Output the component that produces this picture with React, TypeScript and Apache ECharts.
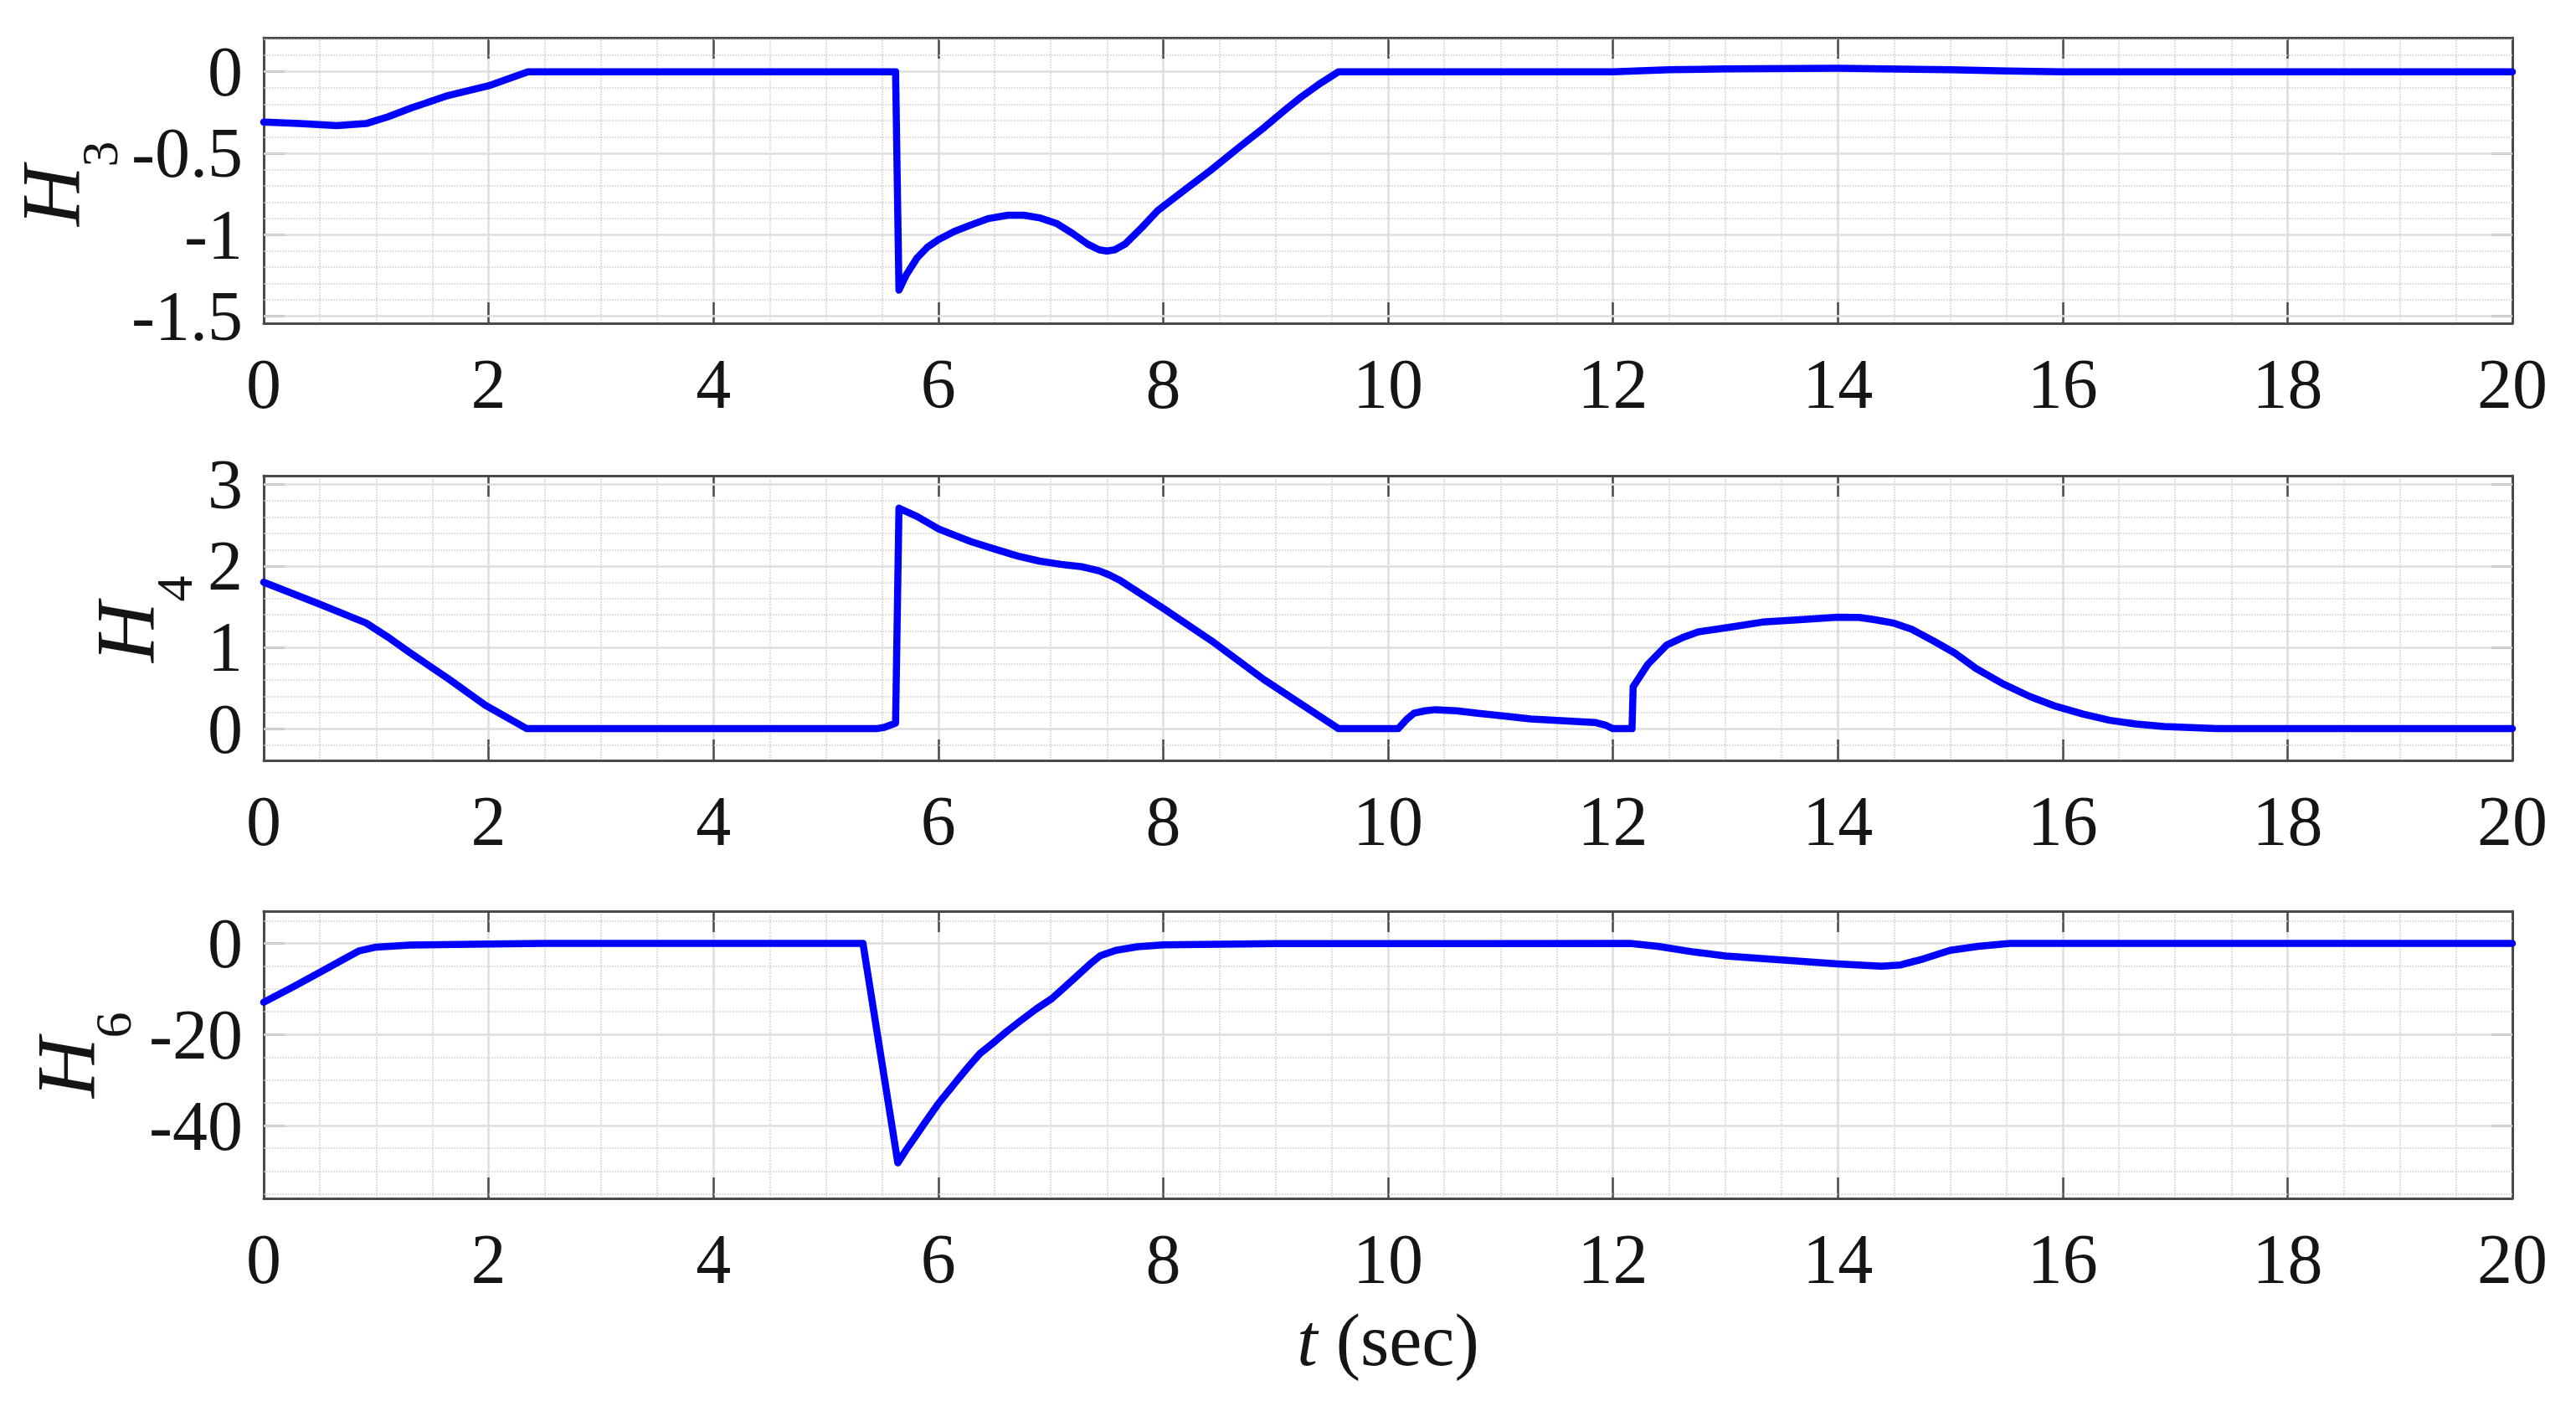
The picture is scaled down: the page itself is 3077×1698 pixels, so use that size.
import React, { useEffect, useRef } from 'react';
import * as echarts from 'echarts';

// ---------- data ----------
const xTickValues = [0, 2, 4, 6, 8, 10, 12, 14, 16, 18, 20];

const h3Time = [0, 0.32, 0.65, 0.91, 1.11, 1.31, 1.64, 2.0, 2.35, 5.62, 5.65, 5.715, 5.81, 5.905, 6.0, 6.14, 6.29, 6.45, 6.62, 6.76, 6.9, 7.05, 7.19, 7.33, 7.43, 7.5, 7.57, 7.66, 7.81, 7.95, 8.2, 8.42, 8.7, 8.9, 9.1, 9.23, 9.4, 9.56, 12.0, 12.5, 13.0, 14.0, 15.0, 15.5, 16.0, 20.0];
const h3Value = [-0.309, -0.318, -0.33, -0.318, -0.275, -0.223, -0.146, -0.086, 0, 0, -1.34, -1.246, -1.143, -1.075, -1.03, -0.98, -0.94, -0.9, -0.88, -0.88, -0.896, -0.93, -0.99, -1.058, -1.092, -1.1, -1.092, -1.058, -0.956, -0.853, -0.72, -0.606, -0.45, -0.341, -0.225, -0.154, -0.07, 0, 0, 0.012, 0.018, 0.022, 0.012, 0.005, 0, 0];

const h4Time = [0, 0.48, 0.91, 1.1, 1.31, 1.64, 1.97, 2.34, 5.45, 5.52, 5.62, 5.65, 5.81, 6.0, 6.14, 6.29, 6.52, 6.71, 6.9, 7.09, 7.28, 7.43, 7.52, 7.62, 7.81, 8.0, 8.43, 8.9, 9.56, 10.09, 10.17, 10.23, 10.33, 10.42, 10.61, 10.8, 11.27, 11.84, 11.94, 12.0, 12.17, 12.18, 12.31, 12.48, 12.62, 12.76, 13.05, 13.33, 13.66, 14.0, 14.19, 14.33, 14.49, 14.66, 14.85, 15.04, 15.23, 15.47, 15.71, 15.94, 16.18, 16.42, 16.65, 16.9, 17.37, 20.0];
const h4Value = [1.8, 1.54, 1.3, 1.13, 0.925, 0.617, 0.29, 0, 0, 0.017, 0.069, 2.71, 2.61, 2.457, 2.38, 2.3, 2.2, 2.12, 2.06, 2.02, 1.99, 1.94, 1.89, 1.82, 1.65, 1.48, 1.08, 0.6, 0, 0, 0.12, 0.19, 0.22, 0.234, 0.22, 0.19, 0.12, 0.076, 0.04, 0, 0, 0.515, 0.79, 1.03, 1.12, 1.19, 1.25, 1.31, 1.34, 1.37, 1.367, 1.34, 1.3, 1.22, 1.08, 0.93, 0.74, 0.55, 0.395, 0.275, 0.18, 0.103, 0.058, 0.027, 0, 0];

const h6Time = [0, 0.25, 0.48, 0.7, 0.85, 1.0, 1.3, 2.0, 2.5, 5.33, 5.64, 5.71, 5.78, 5.88, 6.0, 6.14, 6.26, 6.37, 6.49, 6.61, 6.73, 6.87, 7.01, 7.2, 7.35, 7.44, 7.58, 7.77, 8.0, 9.0, 12.15, 12.4, 12.7, 13.0, 13.5, 14.0, 14.39, 14.56, 14.76, 15.0, 15.25, 15.53, 20.0];
const h6Value = [-12.9, -9.7, -6.6, -3.6, -1.6, -0.8, -0.35, -0.1, 0, 0, -48.2, -45.5, -43, -39.4, -35.2, -30.9, -27.3, -24.2, -21.8, -19.3, -17, -14.4, -12.1, -7.9, -4.5, -2.7, -1.5, -0.73, -0.3, -0.05, 0, -0.64, -1.8, -2.75, -3.6, -4.5, -5.0, -4.7, -3.4, -1.5, -0.64, 0, 0];

const h3Major = [-1.5, -1, -0.5, 0];
const h3Minor = [-1.4, -1.3, -1.2, -1.1, -0.9, -0.8, -0.7, -0.6, -0.4, -0.3, -0.2, -0.1, 0.1, 0.2];
const h4Major = [0, 1, 2, 3];
const h4Minor = [-0.2, 0.2, 0.4, 0.6, 0.8, 1.2, 1.4, 1.6, 1.8, 2.2, 2.4, 2.6, 2.8];
const h6Major = [-40, -20, 0];
const h6Minor = [-55, -50, -45, -35, -30, -25, -15, -10, -5, 5];

const yRanges = [
  [-1.543, 0.209],
  [-0.39, 3.11],
  [-56, 7.1],
];

// ---------- styles ----------
const FONT = '"Liberation Serif", "Times New Roman", serif';
const AXIS_COLOR = '#4a4a4a';
const LABEL_COLOR = '#151515';
const MAJOR_GRID = { color: '#dedede', width: 2.5, type: 'solid' as const };
const MINOR_GRID = { color: '#cdcdcd', width: 1.6, type: 'dotted' as const };

const grids = [
  { left: 315, right: 76, top: 45, height: 341 },
  { left: 315, right: 76, top: 568, height: 340 },
  { left: 315, right: 76, top: 1088, height: 343 },
];

function zip(t: number[], v: number[]) {
  return t.map((x, i) => [x, v[i]]);
}

export default function App() {
  const ref = useRef<HTMLDivElement>(null);

  useEffect(() => {
    if (!ref.current) return;
    const chart = echarts.init(ref.current, undefined, { renderer: 'svg' });

    const series = [zip(h3Time, h3Value), zip(h4Time, h4Value), zip(h6Time, h6Value)];
    const majors = [h3Major, h4Major, h6Major];
    const minors = [h3Minor, h4Minor, h6Minor];

    const xAxis: any[] = [];
    const yAxis: any[] = [];
    const seriesOpt: any[] = [];

    for (let g = 0; g < 3; g++) {
      xAxis.push({
        type: 'value', gridIndex: g, position: 'bottom', min: 0, max: 20, interval: 2,
        axisLine: { show: true, onZero: false, lineStyle: { color: AXIS_COLOR, width: 3 } },
        axisTick: { show: true, inside: true, length: 25, lineStyle: { color: AXIS_COLOR, width: 2.5 } },
        axisLabel: {
          show: true, margin: 30, fontSize: 84, fontFamily: FONT, color: LABEL_COLOR,
          customValues: xTickValues,
        },
        splitLine: { show: true, lineStyle: MAJOR_GRID },
        minorTick: { show: false, splitNumber: 4 },
        minorSplitLine: { show: true, lineStyle: MINOR_GRID },
      });
      xAxis.push({
        type: 'value', gridIndex: g, position: 'top', min: 0, max: 20, interval: 2,
        axisLine: { show: true, onZero: false, lineStyle: { color: AXIS_COLOR, width: 3 } },
        axisTick: { show: true, inside: true, length: 25, lineStyle: { color: AXIS_COLOR, width: 2.5 } },
        axisLabel: { show: false },
        splitLine: { show: false },
      });
      yAxis.push({
        type: 'value', gridIndex: g, position: 'left', min: yRanges[g][0], max: yRanges[g][1],
        axisLine: { show: true, onZero: false, lineStyle: { color: AXIS_COLOR, width: 3 } },
        axisTick: { show: true, inside: true, length: 25, customValues: majors[g], lineStyle: { color: AXIS_COLOR, width: 2.5 } },
        axisLabel: { show: true, margin: 25, fontSize: 84, fontFamily: FONT, color: LABEL_COLOR, customValues: majors[g] },
        splitLine: { show: false },
      });
      yAxis.push({
        type: 'value', gridIndex: g, position: 'right', min: yRanges[g][0], max: yRanges[g][1],
        axisLine: { show: true, onZero: false, lineStyle: { color: AXIS_COLOR, width: 3 } },
        axisTick: { show: true, inside: true, length: 25, customValues: majors[g], lineStyle: { color: AXIS_COLOR, width: 2.5 } },
        axisLabel: { show: false },
        splitLine: { show: false },
      });

      const markData: any[] = [];
      minors[g].forEach((v) => markData.push({ yAxis: v, lineStyle: MINOR_GRID }));
      majors[g].forEach((v) => markData.push({ yAxis: v, lineStyle: MAJOR_GRID }));

      seriesOpt.push({
        type: 'line',
        xAxisIndex: g * 2,
        yAxisIndex: g * 2,
        data: series[g],
        showSymbol: false,
        symbol: 'none',
        z: 5,
        lineStyle: { color: '#0000ff', width: 8.5, join: 'round', cap: 'round' },
        itemStyle: { color: '#0000ff' },
        emphasis: { disabled: true },
        markLine: {
          z: 1,
          silent: true,
          symbol: ['none', 'none'],
          label: { show: false },
          emphasis: { disabled: true },
          data: markData,
        },
      });
    }

    const yLabel = (main: string, sub: string, hx: number, hy: number, sx: number, sy: number) => [
      {
        type: 'text', x: hx, y: hy, rotation: Math.PI / 2,
        style: { text: main, fontSize: 100, fontStyle: 'italic', fontFamily: FONT, fill: LABEL_COLOR, align: 'center', verticalAlign: 'middle' },
      },
      {
        type: 'text', x: sx, y: sy, rotation: Math.PI / 2,
        style: { text: sub, fontSize: 62, fontFamily: FONT, fill: LABEL_COLOR, align: 'center', verticalAlign: 'middle' },
      },
    ];

    chart.setOption({
      animation: false,
      backgroundColor: '#ffffff',
      grid: grids.map((g) => ({ ...g, outerBoundsMode: 'none', containLabel: false })),
      xAxis,
      yAxis,
      series: seriesOpt,
      graphic: [
        ...yLabel('H', '3', 60, 234, 119, 184),
        ...yLabel('H', '4', 149, 755, 208, 703),
        ...yLabel('H', '6', 78, 1275, 135, 1224),
        {
          type: 'text', x: 1658, y: 1600,
          style: {
            text: '{i|t}{n| (sec)}',
            fontSize: 88, fontFamily: FONT, fill: LABEL_COLOR, align: 'center', verticalAlign: 'middle',
            rich: {
              i: { fontSize: 88, fontFamily: FONT, fontStyle: 'italic', fill: LABEL_COLOR },
              n: { fontSize: 88, fontFamily: FONT, fill: LABEL_COLOR },
            },
          },
        },
      ],
    });

    return () => chart.dispose();
  }, []);

  return (
    <div
      ref={ref}
      style={{ position: 'absolute', left: 0, top: 0, width: 3077, height: 1698, background: '#fff' }}
    />
  );
}
